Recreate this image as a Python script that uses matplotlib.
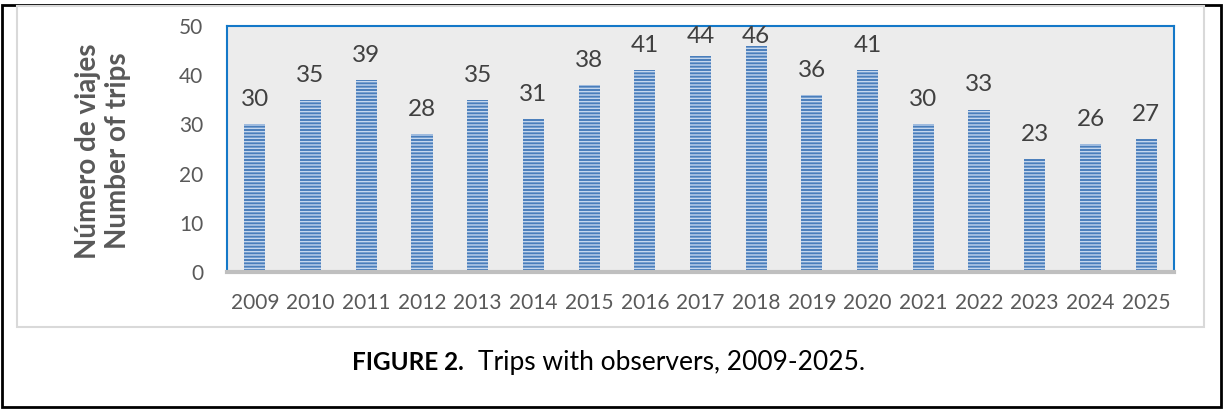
import matplotlib
matplotlib.use("Agg")
import matplotlib.pyplot as plt
from matplotlib.patches import Rectangle

# data
years = ["2009", "2010", "2011", "2012", "2013", "2014", "2015", "2016", "2017",
         "2018", "2019", "2020", "2021", "2022", "2023", "2024", "2025"]
trips = [30, 35, 39, 28, 35, 31, 38, 41, 44, 46, 36, 41, 30, 33, 23, 26, 27]
y_ticks = [0, 10, 20, 30, 40, 50]

W, H = 1225, 411
txt = "#595959"
plt.rcParams['font.family'] = ['Lato', 'DejaVu Sans']
plt.rcParams['hatch.linewidth'] = 1.0

fig = plt.figure(figsize=(W / 100, H / 100), dpi=100)

# outer black frame and inner light gray chart-area frame
fig.patches.append(Rectangle((2 / W, 1 - 407 / H), 1219 / W, 402 / H,
                             transform=fig.transFigure, fill=False,
                             edgecolor="black", lw=2))
fig.patches.append(Rectangle((17 / W, 1 - 327 / H), 1187 / W, 321 / H,
                             transform=fig.transFigure, fill=False,
                             edgecolor="#d9d9d9", lw=1.5))

ax = fig.add_axes([227 / W, 1 - 272 / H, (1174 - 227) / W, (272 - 26) / H])
ax.set_facecolor("#ececec")

x = list(range(len(years)))
bars = ax.bar(x, trips, width=0.38, color="#4a7ebb", edgecolor="#c5d7ee",
              linewidth=0, hatch="-----")

# labels sit above bars, but get pushed down near the top of the plot
for xi, v in zip(x, trips):
    ax.text(xi, min(v + 3.7, 46.6), str(v), ha="center", va="baseline",
            fontsize=17.5, color="#404040")

ax.set_xlim(-0.5, len(years) - 0.5)
ax.set_ylim(0, 50)
ax.set_yticks(y_ticks)
ax.set_xticks(x)
ax.set_xticklabels(years)
ax.tick_params(axis="both", length=0, labelsize=15, labelcolor=txt)
ax.tick_params(axis="y", pad=17)
ax.tick_params(axis="x", pad=15)

for s in ["left", "top", "right"]:
    ax.spines[s].set_color("#1478c8")
    ax.spines[s].set_linewidth(1.5)
ax.spines["bottom"].set_color("#bfbfbf")
ax.spines["bottom"].set_linewidth(3)

fig.text(103 / W, 1 - 151 / H, "Número de viajes\nNumber of trips",
         rotation=90, ha="center", va="center", multialignment="center",
         fontsize=20, fontweight="bold", color=txt, linespacing=1.2)

# caption: bold label then plain text
fig.text(352 / W, 1 - 362 / H, "FIGURE 2.", ha="left", va="center",
         fontsize=17.5, fontweight="bold", color="black")
fig.text(478 / W, 1 - 362 / H, "Trips with observers, 2009-2025.",
         ha="left", va="center", fontsize=19, color="black")

fig.savefig("out.png", dpi=100)
